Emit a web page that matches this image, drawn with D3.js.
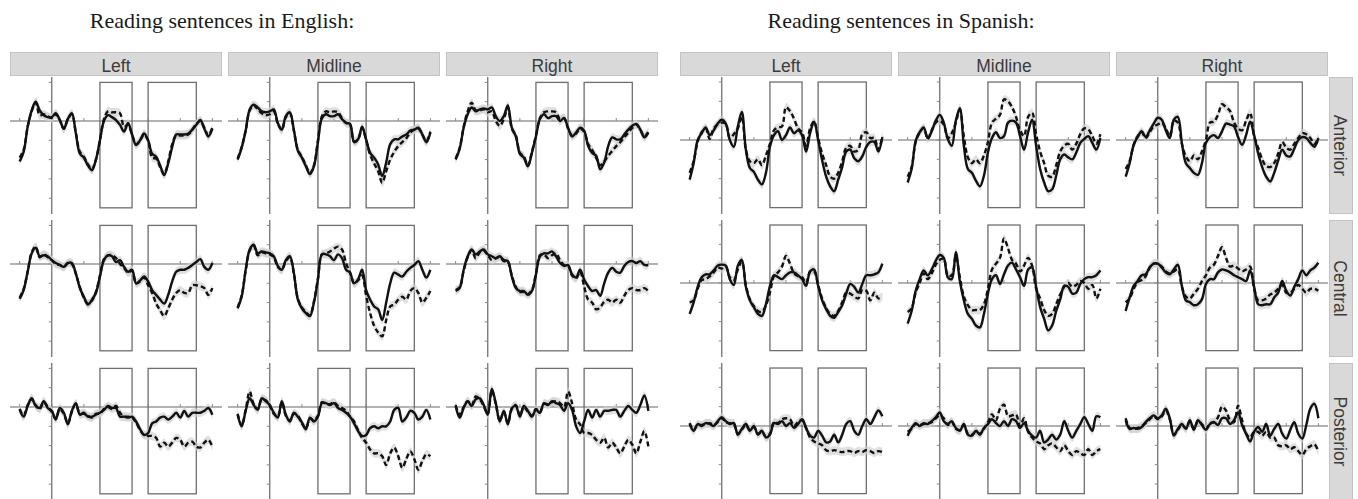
<!DOCTYPE html>
<html>
<head>
<meta charset="utf-8">
<script src="https://cdn.jsdelivr.net/npm/d3@7"></script>
<style>
  body { margin: 0; background: #fff; }
  svg { display: block; }
</style>
</head>
<body>
<svg id="chart" width="1358" height="499"></svg>
<script>
// ---- facets and axes -------------------------------------------------------
const languages = ["English", "Spanish"];
const titles = ["Reading sentences in English:", "Reading sentences in Spanish:"];
const regions = ["Left", "Midline", "Right"];
const sites = ["Anterior", "Central", "Posterior"];

// waveforms are sampled every 25 ms from -200 ms to 1000 ms
const timeStart = -200;
const timeStep = 25;
const timeTicks = [-200, 0, 200, 400, 600, 800, 1000];
const analysisWindows = [[300, 500], [600, 900]];

const yTicksEnglish = [-4, -3, -2, -1, 0, 1, 2];
const yTicksSpanish = [-3, -2, -1, 0, 1, 2, 3];
const windowRangeEnglish = [-4.5, 2];
const windowRangeSpanish = [-3.5, 3];
const yDomainEnglish = [-4.82, 2.28];
const yDomainSpanish = [-3.83, 3.26];
const ribbonHalfWidth = 0.22;

// ---- English: condition A (solid) and condition B (dashed) -----------------
const enAntLeftA = [
  -2.1, -1.6, -0.3, 0.55,
  1.0, 0.55, 0.3, 0.2,
  0.2, 0.4, 0.05, -0.4,
  0.1, 0.4, -0.65, -1.7,
  -1.9, -2.3, -2.55, -2.0,
  -1.0, 0.0, 0.3, 0.2,
  0.05, -0.2, -0.55, -0.1,
  -0.7, -1.25, -1.0, -0.65,
  -1.0, -1.7, -1.85, -2.3,
  -2.8, -2.2, -1.35, -0.7,
  -0.7, -0.7, -0.65, -0.45,
  -0.2, 0.05, -0.4, -0.8,
  -0.4];
const enAntLeftB = [
  -1.9, -1.5, -0.3, 0.5,
  0.95, 0.3, 0.35, 0.25,
  0.15, 0.35, 0.05, -0.4,
  0.1, 0.35, -0.6, -1.6,
  -1.85, -2.25, -2.5, -2.0,
  -1.0, 0.1, 0.5, 0.45,
  0.45, 0.4, -0.3, -0.2,
  -0.7, -1.2, -1.0, -0.7,
  -1.0, -1.9, -1.95, -2.4,
  -2.75, -2.1, -1.2, -0.75,
  -0.75, -0.75, -0.7, -0.45,
  -0.15, 0.0, -0.35, -0.75,
  -0.35];
const enAntMidA = [
  -2.0, -1.4, -0.5, 0.6,
  0.85, 0.7, 0.5, 0.45,
  0.5, 0.6, -0.1, -0.45,
  0.25, 0.45, -0.45, -1.55,
  -1.9, -2.35, -2.75, -2.35,
  -1.1, 0.15, 0.35, 0.25,
  0.25, 0.35, 0.1, -0.1,
  -0.15, -1.1, -0.95, -0.3,
  -0.95, -1.65, -1.9, -2.25,
  -2.85, -2.15, -1.2, -0.95,
  -0.95, -0.8, -0.7, -0.5,
  -0.45, -0.35, -0.7, -1.1,
  -0.6];
const enAntMidB = [
  -1.95, -1.35, -0.5, 0.55,
  0.8, 0.6, 0.4, 0.3,
  0.35, 0.5, -0.15, -0.45,
  0.2, 0.4, -0.5, -1.5,
  -1.85, -2.3, -2.7, -2.3,
  -1.0, 0.25, 0.5, 0.45,
  0.5, 0.45, 0.15, -0.1,
  -0.2, -1.05, -0.95, -0.35,
  -1.0, -1.75, -2.2, -2.6,
  -3.2, -2.6, -2.0, -1.6,
  -1.3, -1.1, -0.9, -0.6,
  -0.45, -0.4, -0.7, -1.05,
  -0.55];
const enAntRightA = [
  -2.0, -1.45, -0.35, 0.35,
  0.7, 0.5, 0.6, 0.65,
  0.6, 0.7, 0.25, 0.0,
  0.25, 0.8, -0.35, -0.8,
  -1.7, -1.9, -2.35, -1.65,
  -0.8, 0.1, 0.35, 0.15,
  0.25, 0.25, 0.0, 0.15,
  -0.35, -0.8, -0.6, -0.35,
  -0.5, -1.3, -1.65, -1.8,
  -2.5, -2.15, -1.3, -0.85,
  -0.95, -0.95, -0.7, -0.45,
  -0.25, -0.15, -0.45, -0.85,
  -0.6];
const enAntRightB = [
  -1.95, -1.4, -0.3, 0.5,
  0.95, 0.55, 0.55, 0.6,
  0.45, 0.5, 0.0, -0.25,
  0.1, 0.7, -0.4, -0.75,
  -1.65, -1.85, -2.3, -1.6,
  -0.75, 0.15, 0.45, 0.5,
  0.5, 0.45, 0.1, 0.15,
  -0.4, -0.75, -0.65, -0.4,
  -0.55, -1.2, -1.5, -1.9,
  -2.3, -2.1, -1.8, -1.55,
  -1.3, -1.1, -0.85, -0.6,
  -0.35, -0.2, -0.45, -0.8,
  -0.55];
const enCenLeftA = [
  -1.8, -1.35, -0.4, 0.55,
  0.85, 0.4, 0.45, 0.4,
  0.2, 0.05, -0.05, -0.15,
  0.05, 0.05, -0.5, -1.25,
  -1.7, -2.1, -1.85, -1.5,
  -0.65, 0.2, 0.45, 0.4,
  0.1, 0.2, -0.15, -0.4,
  -0.3, -1.0, -0.85, -0.65,
  -0.9, -1.35, -1.6, -1.85,
  -2.05, -1.6, -0.9, -0.4,
  -0.3, -0.3, -0.2, -0.05,
  0.1, 0.25, -0.15, -0.3,
  0.05];
const enCenLeftB = [
  -1.75, -1.3, -0.4, 0.6,
  0.9, 0.35, 0.5, 0.35,
  0.2, 0.0, -0.05, -0.15,
  0.05, 0.0, -0.5, -1.2,
  -1.75, -2.05, -1.9, -1.45,
  -0.6, 0.25, 0.45, 0.45,
  0.3, 0.0, -0.2, -0.45,
  -0.35, -1.0, -0.9, -0.7,
  -1.1, -1.5, -2.05, -2.4,
  -2.7, -2.3, -1.85, -1.5,
  -1.35, -1.5, -1.5, -1.1,
  -1.1, -1.15, -1.25, -1.6,
  -1.25];
const enCenMidA = [
  -2.3, -1.7, -0.3, 0.75,
  1.0, 0.55, 0.65, 0.6,
  0.55, 0.4, -0.1, -0.3,
  0.2, 0.4, -0.45, -1.85,
  -2.3, -2.55, -2.7, -2.0,
  -0.8, 0.5, 0.5, 0.4,
  0.2, 0.5, 0.3, -0.3,
  -0.45, -1.0, -0.8, -0.3,
  -1.35, -1.85, -2.2, -2.35,
  -2.9, -2.0, -1.0, -0.45,
  -0.55, -0.65, -0.4, -0.2,
  -0.05, 0.15, -0.3, -0.7,
  -0.3];
const enCenMidB = [
  -2.25, -1.65, -0.35, 0.7,
  0.95, 0.45, 0.6, 0.55,
  0.5, 0.35, -0.15, -0.3,
  0.15, 0.35, -0.5, -1.8,
  -2.25, -2.5, -2.65, -1.95,
  -0.75, 0.5, 0.55, 0.65,
  0.8, 0.9, 0.75, 0.05,
  -0.45, -1.0, -0.85, -0.6,
  -1.65, -2.55, -3.2, -3.55,
  -3.75, -2.9, -2.2, -2.1,
  -1.85, -1.7, -1.85, -1.4,
  -1.25, -1.5, -2.0, -1.75,
  -1.4];
const enCenRightA = [
  -1.4, -1.25, -0.3, 0.4,
  0.75, 0.5, 0.65, 0.75,
  0.5, 0.4, 0.3, 0.4,
  0.2, 0.15, -0.65, -1.25,
  -1.4, -1.4, -1.6, -1.4,
  -0.55, 0.4, 0.55, 0.55,
  0.65, 0.4, 0.05, -0.1,
  -0.05, -0.55, -0.7, -0.3,
  -0.8, -1.15, -1.4, -1.35,
  -1.65, -1.0, -0.45, -0.2,
  -0.4, -0.45, -0.1, 0.1,
  0.15, 0.05, 0.15, -0.05,
  -0.05];
const enCenRightB = [
  -1.35, -1.2, -0.35, 0.35,
  0.7, 0.3, 0.6, 0.7,
  0.45, 0.2, 0.3, 0.35,
  0.15, 0.1, -0.6, -1.2,
  -1.45, -1.45, -1.55, -1.35,
  -0.5, 0.45, 0.5, 0.3,
  0.45, 0.55, 0.2, -0.05,
  -0.1, -0.6, -0.75, -0.4,
  -1.15, -1.85, -2.0, -2.35,
  -2.25, -1.95, -1.85, -2.0,
  -1.85, -2.0, -1.65, -1.35,
  -1.25, -1.35, -1.35, -1.25,
  -1.4];
const enPosLeftA = [
  -0.15, -0.5, 0.05, 0.45,
  0.05, -0.05, 0.3, -0.05,
  -0.2, -0.65, -0.05, -0.3,
  -0.9, -0.2, 0.2, -0.4,
  -0.3, -0.5, -0.5, -0.4,
  -0.3, -0.15, 0.05, -0.05,
  -0.05, -0.5, -0.5, -0.55,
  -0.5, -0.75, -1.15, -1.45,
  -1.35, -0.85, -0.75, -0.55,
  -0.5, -0.65, -0.5, -0.3,
  -0.55, -0.2, -0.5, -0.3,
  -0.3, -0.3, -0.2, -0.05,
  -0.4];
const enPosLeftB = [
  -0.1, -0.45, 0.1, 0.4,
  0.1, -0.1, 0.25, 0.0,
  -0.25, -0.6, -0.1, -0.35,
  -0.85, -0.25, 0.15, -0.35,
  -0.35, -0.45, -0.55, -0.35,
  -0.35, -0.1, 0.0, -0.1,
  0.05, -0.3, -0.5, -0.5,
  -0.55, -0.8, -1.2, -1.45,
  -1.5, -1.5, -1.6, -2.05,
  -1.85, -2.05, -1.85, -1.6,
  -1.7, -2.05, -1.85, -1.8,
  -2.05, -2.1, -1.85, -1.7,
  -2.05];
const enPosMidA = [
  -0.4, -1.0, -0.2, 0.45,
  0.1, -0.15, 0.45, 0.3,
  0.1, -0.3, -0.55, 0.3,
  -0.4, -0.75, -0.3, -0.5,
  -0.8, -1.15, -0.55, -0.75,
  -0.5, 0.2, 0.2, 0.1,
  0.2, -0.05, -0.15, -0.3,
  -0.5, -0.85, -1.25, -1.5,
  -1.45, -1.1, -1.0, -1.1,
  -1.0, -1.0, -0.75, -0.15,
  -0.05, -0.75, -0.55, -0.2,
  -0.3, -0.65, -0.5, -0.15,
  -0.65];
const enPosMidB = [
  -0.35, -0.95, -0.15, 0.8,
  0.15, -0.1, 0.4, 0.35,
  0.05, -0.35, -0.5, 0.25,
  -0.45, -0.7, -0.35, -0.45,
  -0.85, -1.1, -0.6, -0.7,
  -0.45, 0.25, 0.15, 0.15,
  0.25, 0.05, -0.05, -0.2,
  -0.5, -0.75, -1.2, -1.6,
  -1.85, -2.2, -2.4, -2.4,
  -2.55, -3.0, -2.4, -2.1,
  -2.55, -3.15, -2.7, -2.3,
  -2.7, -3.25, -2.8, -2.45,
  -2.55];
const enPosRightA = [
  0.05, -0.55, -0.05, 0.3,
  0.05, 0.4, 0.45, 0.1,
  -0.4, 0.95, 0.2, -0.75,
  -0.2, -0.9, -0.05, 0.05,
  -0.5, 0.05, -0.2, -0.5,
  -0.15, -0.3, 0.2, 0.1,
  0.3, 0.2, 0.1, -0.2,
  0.2, -0.15, -1.0, -1.35,
  -0.75, -0.15, -0.55, -0.15,
  -0.5, -0.2, -0.2, -0.15,
  -0.15, -0.5, -0.2, 0.05,
  -0.15, -0.3, 0.1, 0.6,
  -0.2];
const enPosRightB = [
  0.1, -0.4, 0.0, 0.3,
  0.1, 0.55, 0.4, 0.05,
  -0.35, 0.85, 0.15, -0.7,
  -0.25, -0.85, -0.1, 0.1,
  -0.45, 0.0, -0.25, -0.45,
  -0.1, -0.25, 0.15, 0.15,
  0.25, 0.3, 0.2, 0.0,
  0.8, 0.2, -0.65, -0.9,
  -1.35, -1.35, -1.45, -1.7,
  -1.85, -1.6, -2.1, -1.85,
  -2.1, -2.4, -2.05, -1.7,
  -1.95, -2.4, -1.8, -1.25,
  -2.05];

// ---- Spanish: condition A (solid) and condition B (dashed) -----------------
const esAntLeftA = [
  -2.05, -1.2, 0.0, 0.35,
  0.65, 0.25, 0.5, 0.85,
  1.05, 0.85, 0.0, -0.35,
  0.7, 1.45, -0.5, -1.45,
  -1.65, -2.05, -2.3, -1.7,
  -0.35, 0.25, 0.45, 0.0,
  0.25, 0.65, 0.35, 0.5,
  0.25, -0.6, 0.35, 0.95,
  0.0, -1.05, -1.9, -2.4,
  -2.65, -2.05, -1.4, -0.6,
  -0.5, -0.95, -1.1, -0.85,
  -0.35, -0.1, -0.1, -0.6,
  0.15];
const esAntLeftB = [
  -1.7, -1.1, -0.1, 0.4,
  0.6, 0.05, 0.6, 0.8,
  0.9, 0.85, 0.1, 0.3,
  0.6, 1.2, -0.5, -1.1,
  -1.2, -1.0, -1.3, -0.8,
  -0.2, 0.5, 0.65, 0.7,
  1.7, 1.5, 1.1, 0.6,
  0.4, -0.3, 0.6, 0.95,
  0.1, -0.7, -1.3, -1.9,
  -2.0, -1.7, -1.1, -0.4,
  -0.3, -0.6, -0.5, 0.3,
  0.4, 0.1, 0.1, -0.5,
  0.2];
const esAntMidA = [
  -2.2, -1.5, -0.05, 0.4,
  0.65, 0.1, 0.45, 1.0,
  1.3, 0.9, 0.05, -0.3,
  1.0, 1.65, -0.3, -1.5,
  -1.7, -2.1, -2.4, -1.85,
  -0.65, 0.1, 0.4, 0.1,
  0.2, 0.9, 1.0, 0.9,
  0.2, -0.5, 0.4, 1.05,
  -0.3, -1.5, -2.2, -2.65,
  -2.55, -1.85, -1.0, -0.75,
  -0.9, -1.0, -0.65, -0.15,
  0.05, 0.2, -0.15, -0.5,
  0.1];
const esAntMidB = [
  -1.9, -1.4, -0.1, 0.4,
  0.6, 0.05, 0.5, 0.9,
  1.0, 0.8, 0.1, 0.35,
  0.9, 1.55, 0.2, -0.9,
  -1.2, -1.0, -1.2, -0.8,
  -0.1, 0.9, 1.1, 1.3,
  2.1, 2.0, 1.7, 1.2,
  0.5, 0.2, 1.2, 1.4,
  0.3, -0.6, -1.2, -1.85,
  -1.9, -1.3, -0.6, -0.3,
  -0.2, -0.5, -0.2, 0.3,
  0.6, 0.55, 0.2, -0.2,
  0.3];
const esAntRightA = [
  -1.9, -1.2, -0.25, 0.15,
  0.45, 0.15, 0.5, 0.85,
  1.15, 1.05, 0.5, 0.1,
  1.05, 1.2, -0.15, -1.2,
  -1.45, -1.7, -1.8, -1.2,
  -0.15, 0.15, 0.25, 0.1,
  0.45, 0.85, 0.8, 0.7,
  0.15, -0.25, 0.25, 0.95,
  0.25, -0.7, -1.4, -1.9,
  -2.15, -1.7, -1.05, -0.5,
  -0.8, -0.85, -0.45, 0.0,
  0.15, 0.1, -0.15, -0.35,
  0.1];
const esAntRightB = [
  -1.5, -1.1, -0.25, 0.2,
  0.4, 0.1, 0.4, 0.7,
  0.8, 0.9, 0.6, 0.2,
  1.0, 0.9, -0.2, -0.85,
  -1.1, -0.8, -1.0, -0.6,
  0.0, 0.9, 0.95, 1.3,
  1.85, 1.7, 1.5, 0.9,
  0.6, 0.5, 1.0, 1.4,
  0.2, -0.4, -1.0, -1.35,
  -1.4, -1.2, -0.7, -0.1,
  -0.4, -0.5, -0.2, 0.1,
  0.35, 0.3, 0.1, -0.2,
  0.1];
const esCenLeftA = [
  -1.6, -1.0, -0.2, 0.3,
  0.45, 0.45, 0.65, 0.9,
  0.95, 0.9, 0.2, -0.1,
  0.9, 1.2, -0.2, -0.9,
  -1.25, -1.6, -1.7, -1.1,
  -0.15, 0.4, 0.3, 0.2,
  0.4, 0.55, 0.55, 0.4,
  0.2, -0.15, 0.6, 0.7,
  -0.15, -0.9, -1.35, -1.7,
  -1.8, -1.5, -1.15, -0.55,
  -0.05, -0.2, -0.5, -0.05,
  0.4, 0.4, 0.45, 0.55,
  1.0];
const esCenLeftB = [
  -1.0, -0.9, -0.3, 0.15,
  0.2, 0.35, 0.55, 0.8,
  0.75, 0.85, 0.3, 0.15,
  0.7, 1.1, -0.1, -0.85,
  -1.2, -1.45, -1.5, -1.15,
  -0.5, 0.35, 0.55, 0.85,
  1.4, 1.0, 0.5, 0.35,
  0.3, 0.0, 0.6, 0.6,
  -0.1, -0.8, -1.3, -1.6,
  -1.7, -1.45, -1.0, -0.5,
  -0.55, -0.7, -0.8, -0.35,
  -0.4, -0.9, -0.5, -0.8,
  -0.7];
const esCenMidA = [
  -2.1, -1.45, -0.4, 0.2,
  0.65, 0.4, 0.7, 1.15,
  1.45, 1.3, 0.3, 0.2,
  1.6, 0.1, -0.9, -1.6,
  -1.85, -2.2, -2.3, -1.6,
  -0.55, 0.2, 0.4, -0.05,
  0.45, 0.9, 1.05, 0.7,
  0.3, -0.15, 0.7, 0.8,
  -0.2, -1.25, -1.85, -2.45,
  -2.2, -1.45, -0.85, -0.15,
  -0.2, -0.55, -0.5, -0.05,
  0.2, 0.3, 0.3, 0.4,
  0.65];
const esCenMidB = [
  -1.5, -1.3, -0.5, 0.0,
  0.5, 0.2, 0.5, 0.95,
  1.2, 1.25, 0.4, 0.4,
  1.4, 0.3, -0.7, -1.15,
  -1.4, -1.4, -1.4, -1.1,
  -0.3, 0.7, 1.0, 1.3,
  2.3, 1.8, 1.2, 1.0,
  0.6, 0.9, 1.3, 0.9,
  -0.3, -0.8, -1.4, -1.7,
  -1.6, -1.1, -0.6, -0.2,
  0.0, -0.2, -0.1, 0.1,
  0.0, -0.3, -0.1, -0.8,
  -0.3];
const esCenRightA = [
  -1.45, -0.75, -0.15, 0.1,
  0.4, 0.45, 0.8, 1.0,
  1.0, 0.8, 0.55, 0.45,
  0.7, 0.95, -0.15, -0.9,
  -1.0, -1.15, -1.1, -0.85,
  -0.05, 0.2, 0.2, 0.55,
  0.7, 0.65, 0.55, 0.4,
  0.3, 0.2, 0.1, 0.65,
  -0.2, -1.1, -1.15, -1.1,
  -1.1, -0.75, -0.5, 0.1,
  -0.4, -0.65, -0.2, 0.2,
  0.65, 0.4, 0.65, 0.8,
  1.05];
const esCenRightB = [
  -1.0, -0.8, -0.3, 0.05,
  0.15, 0.35, 0.8, 1.0,
  1.0, 0.85, 0.6, 0.5,
  0.6, 0.7, -0.2, -0.7,
  -0.8, -0.55, -0.3, 0.1,
  0.4, 0.8, 0.95, 1.4,
  1.85, 1.3, 0.85, 0.9,
  0.75, 0.6, 0.7, 0.85,
  -0.3, -0.9, -0.9, -0.8,
  -0.6, -0.5, -0.3, -0.1,
  -0.5, -0.5, -0.3, -0.1,
  -0.3, -0.5, -0.3, -0.3,
  -0.4];
const esPosLeftA = [
  0.1, -0.25, 0.1, 0.0,
  0.15, 0.1, 0.0, 0.25,
  0.45, 0.25, 0.1, 0.15,
  -0.45, -0.15, 0.1, -0.25,
  0.0, -0.45, -0.25, -0.6,
  -0.45, 0.15, 0.1, 0.25,
  0.0, 0.15, -0.1, 0.1,
  0.35, -0.1, -0.5, -0.6,
  -0.25, -0.5, -0.85, -0.8,
  -0.45, -0.85, -0.45, 0.1,
  0.25, -0.25, -0.45, 0.0,
  0.35, 0.1, 0.45, 0.8,
  0.5];
const esPosLeftB = [
  0.15, -0.2, 0.05, 0.05,
  0.1, 0.15, 0.05, 0.2,
  0.4, 0.2, 0.15, 0.1,
  -0.4, -0.2, 0.05, -0.2,
  -0.05, -0.4, -0.3, -0.55,
  -0.4, 0.2, 0.15, 0.35,
  0.4, 0.35, 0.0, 0.2,
  0.3, -0.1, -0.6, -0.8,
  -0.9, -1.0, -1.25, -1.3,
  -1.25, -1.3, -1.35, -1.3,
  -1.3, -1.4, -1.3, -1.35,
  -1.25, -1.3, -1.4, -1.3,
  -1.35];
const esPosMidA = [
  -0.5, -0.1, 0.15, 0.0,
  0.15, 0.1, 0.25, 0.45,
  0.7, 0.25, 0.1, 0.25,
  -0.1, -0.25, 0.1, -0.45,
  -0.5, -0.25, -0.45, -0.1,
  0.1, 0.35, 0.15, 0.0,
  0.25, 0.0, 0.35, 0.25,
  -0.1, 0.15, -0.25, -0.5,
  -0.6, -0.25, -0.85, -0.7,
  -0.45, -0.7, -0.45, 0.25,
  -0.25, -0.6, -0.25, 0.1,
  0.45, 0.1, -0.25, 0.5,
  0.45];
const esPosMidB = [
  -0.3, -0.15, 0.1, 0.05,
  0.1, 0.15, 0.2, 0.4,
  0.55, 0.4, 0.05, 0.2,
  -0.15, -0.2, 0.05, -0.4,
  -0.45, -0.3, -0.4, -0.15,
  0.2, 0.6, 0.3, 0.9,
  1.1, 0.5, 0.55, 0.6,
  0.0, 0.4, -0.3, -0.6,
  -0.8, -0.9, -1.2, -1.0,
  -0.9, -1.1, -1.3, -1.0,
  -1.3, -1.5, -1.3, -1.4,
  -1.5, -1.2, -1.5, -1.3,
  -1.2];
const esPosRightA = [
  0.3, -0.15, -0.1, -0.15,
  -0.05, 0.2, 0.4, 0.55,
  0.4, 0.55, 0.9, 0.4,
  -0.5, -0.15, 0.1, -0.15,
  0.3, -0.2, 0.3, 0.05,
  -0.2, 0.1, 0.2, 0.05,
  0.4, 0.4, 0.1, 0.3,
  0.7, 0.05, -0.4, -0.8,
  -0.3, -0.05, -0.3, 0.1,
  -0.5, -0.15, 0.1, -0.4,
  -0.65, -0.2, 0.2, -0.4,
  -0.65, 0.05, 0.9, 1.15,
  0.4];
const esPosRightB = [
  0.4, -0.1, -0.15, -0.1,
  0.0, 0.15, 0.35, 0.5,
  0.35, 0.5, 0.8, 0.35,
  -0.45, -0.2, 0.05, -0.1,
  0.25, -0.15, 0.25, 0.1,
  -0.15, 0.15, 0.2, 0.45,
  1.0, 0.8, 0.3, 0.2,
  1.05, 0.3, -0.4, -0.6,
  -0.3, -0.3, -0.5, -0.3,
  -0.6, -0.6, -1.0, -1.05,
  -1.0, -1.2, -1.1, -1.3,
  -1.5, -1.2, -1.05, -0.95,
  -1.3];

// lookup: language -> site -> region -> [conditionA, conditionB]
const waveforms = {
  English: {
    Anterior:  { Left: [enAntLeftA, enAntLeftB], Midline: [enAntMidA, enAntMidB], Right: [enAntRightA, enAntRightB] },
    Central:   { Left: [enCenLeftA, enCenLeftB], Midline: [enCenMidA, enCenMidB], Right: [enCenRightA, enCenRightB] },
    Posterior: { Left: [enPosLeftA, enPosLeftB], Midline: [enPosMidA, enPosMidB], Right: [enPosRightA, enPosRightB] }
  },
  Spanish: {
    Anterior:  { Left: [esAntLeftA, esAntLeftB], Midline: [esAntMidA, esAntMidB], Right: [esAntRightA, esAntRightB] },
    Central:   { Left: [esCenLeftA, esCenLeftB], Midline: [esCenMidA, esCenMidB], Right: [esCenRightA, esCenRightB] },
    Posterior: { Left: [esPosLeftA, esPosLeftB], Midline: [esPosMidA, esPosMidB], Right: [esPosRightA, esPosRightB] }
  }
};

// ---- layout ----------------------------------------------------------------
const groupLeft = { English: 10, Spanish: 680 };
const titleCenter = { English: 222, Spanish: 901 };
const panelW = 212, colStep = 218;
const panelTop = 77, panelH = 137, rowStep = 143;
const stripTop = 52, stripH = 24;
const sideStripW = 24;
const stripFont = "'Liberation Sans', Arial, sans-serif";

const svg = d3.select("#chart");

const x = d3.scaleLinear().domain([-260, 1060]).range([0, panelW]);
const yScale = {
  English: d3.scaleLinear().domain(yDomainEnglish).range([panelH, 0]),
  Spanish: d3.scaleLinear().domain(yDomainSpanish).range([panelH, 0])
};
const yTicks = { English: yTicksEnglish, Spanish: yTicksSpanish };
const windowRange = { English: windowRangeEnglish, Spanish: windowRangeSpanish };

const tAt = i => timeStart + i * timeStep;

languages.forEach((lang, li) => {
  const y = yScale[lang];
  const g0 = groupLeft[lang];

  svg.append("text")
    .attr("x", titleCenter[lang]).attr("y", 28)
    .attr("text-anchor", "middle")
    .attr("font-family", "'Liberation Serif', 'Times New Roman', serif")
    .attr("font-size", 22)
    .attr("fill", "#1a1a1a")
    .text(titles[li]);

  // column strips
  regions.forEach((reg, ci) => {
    const sx = g0 + ci * colStep;
    svg.append("rect")
      .attr("x", sx + 0.5).attr("y", stripTop + 0.5)
      .attr("width", panelW - 1).attr("height", stripH - 1)
      .attr("fill", "#d9d9d9").attr("stroke", "#c2c2c2").attr("stroke-width", 1);
    svg.append("text")
      .attr("x", sx + panelW / 2).attr("y", stripTop + 19.5)
      .attr("text-anchor", "middle")
      .attr("font-family", stripFont)
      .attr("font-size", 17.5)
      .attr("fill", "#3c3c3c")
      .text(reg);
  });

  const line = d3.line()
    .x((d, i) => x(tAt(i)))
    .y(d => y(d))
    .curve(d3.curveCatmullRom.alpha(0.5));
  const band = d3.area()
    .x((d, i) => x(tAt(i)))
    .y0(d => y(d - ribbonHalfWidth))
    .y1(d => y(d + ribbonHalfWidth))
    .curve(d3.curveCatmullRom.alpha(0.5));

  sites.forEach((site, ri) => {
    regions.forEach((reg, ci) => {
      const px = g0 + ci * colStep;
      const py = panelTop + ri * rowStep;
      const g = svg.append("g").attr("transform", `translate(${px},${py})`);

      // analysis windows
      const wr = windowRange[lang];
      g.selectAll("rect.win").data(analysisWindows).join("rect")
        .attr("class", "win")
        .attr("x", d => x(d[0])).attr("width", d => x(d[1]) - x(d[0]))
        .attr("y", y(wr[1])).attr("height", y(wr[0]) - y(wr[1]))
        .attr("fill", "none").attr("stroke", "#6e6e6e").attr("stroke-width", 1.3);

      // zero line with time ticks
      g.append("line")
        .attr("x1", 0).attr("x2", panelW)
        .attr("y1", y(0)).attr("y2", y(0))
        .attr("stroke", "#666").attr("stroke-width", 1.2);
      g.selectAll("line.xt").data(timeTicks).join("line")
        .attr("class", "xt")
        .attr("x1", d => x(d)).attr("x2", d => x(d))
        .attr("y1", y(0) - 3).attr("y2", y(0))
        .attr("stroke", "#888").attr("stroke-width", 1);

      // amplitude axis at stimulus onset
      g.append("line")
        .attr("x1", x(0)).attr("x2", x(0))
        .attr("y1", 0).attr("y2", panelH)
        .attr("stroke", "#666").attr("stroke-width", 1.2);
      g.selectAll("line.yt").data(yTicks[lang]).join("line")
        .attr("class", "yt")
        .attr("x1", x(0) - 3).attr("x2", x(0))
        .attr("y1", d => y(d)).attr("y2", d => y(d))
        .attr("stroke", "#888").attr("stroke-width", 1);

      const [a, b] = waveforms[lang][site][reg];
      [a, b].forEach(s => {
        g.append("path").attr("d", band(s))
          .attr("fill", "#cfcfcf").attr("opacity", 0.65);
      });
      g.append("path").attr("d", line(b))
        .attr("fill", "none").attr("stroke", "#111")
        .attr("stroke-width", 2.4).attr("stroke-dasharray", "5,3");
      g.append("path").attr("d", line(a))
        .attr("fill", "none").attr("stroke", "#111")
        .attr("stroke-width", 2.4);
    });
  });
});

// row strips on the right side
const sideX = groupLeft.Spanish + 2 * colStep + panelW + 1;
sites.forEach((site, ri) => {
  const py = panelTop + ri * rowStep;
  svg.append("rect")
    .attr("x", sideX + 0.5).attr("y", py + 0.5)
    .attr("width", sideStripW - 1).attr("height", panelH - 1)
    .attr("fill", "#d9d9d9").attr("stroke", "#c2c2c2").attr("stroke-width", 1);
  svg.append("text")
    .attr("transform", `translate(${sideX + 5},${py + panelH / 2}) rotate(90)`)
    .attr("text-anchor", "middle")
    .attr("font-family", stripFont)
    .attr("font-size", 17.5)
    .attr("fill", "#3c3c3c")
    .text(site);
});
</script>
</body>
</html>
